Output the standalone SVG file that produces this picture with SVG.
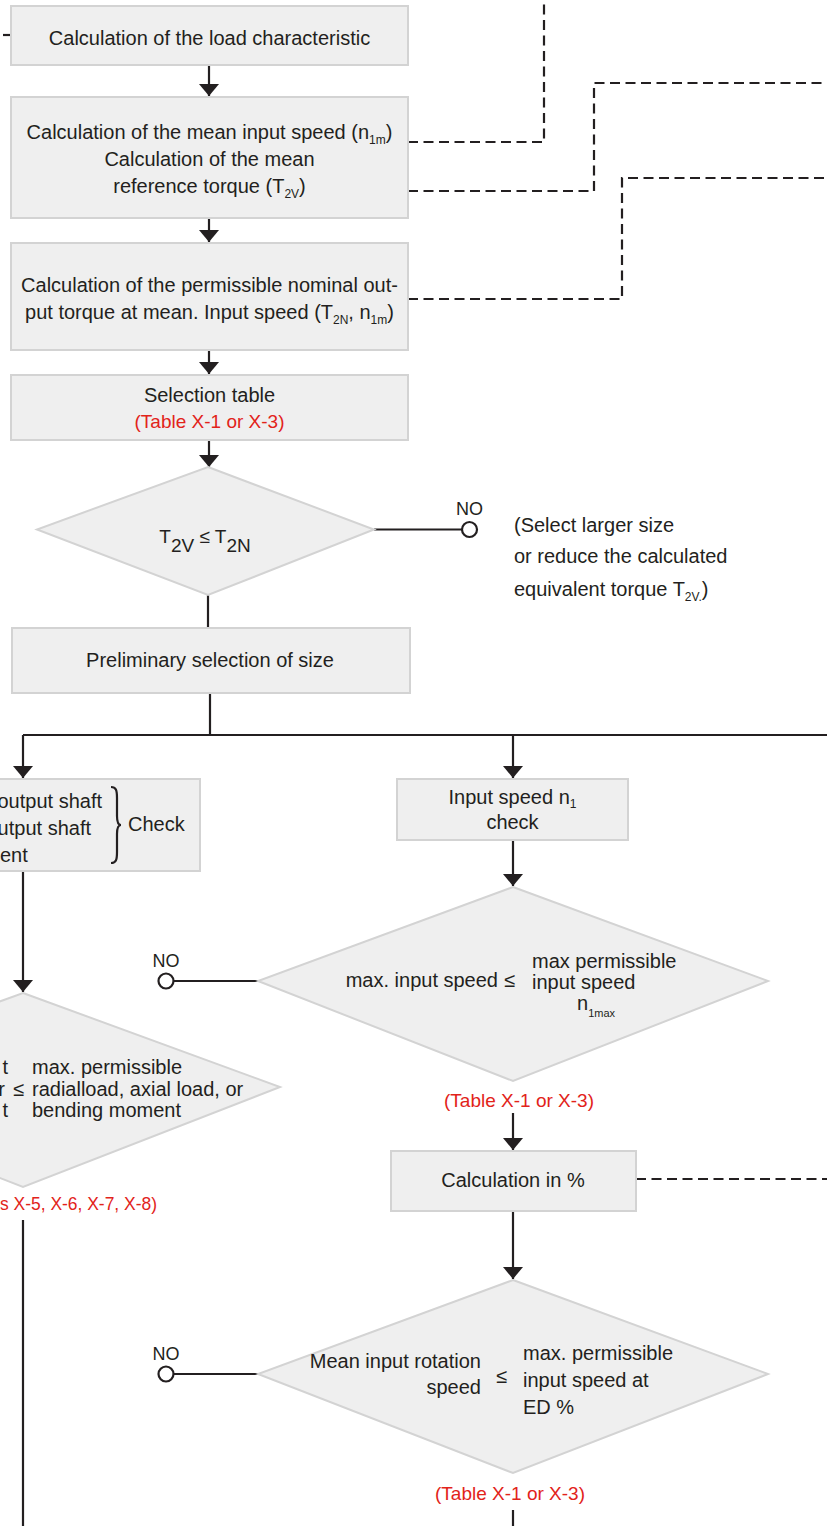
<svg xmlns="http://www.w3.org/2000/svg" width="827" height="1526" viewBox="0 0 827 1526">
<style>
.box{fill:#efefef;stroke:#d3d3d3;stroke-width:2}
.t{font-family:"Liberation Sans",Arial,sans-serif;font-size:20px;fill:#231f20}
.c{text-anchor:middle}
.e{text-anchor:end}
.red{fill:#e2231a;font-size:19px}
.sub{font-size:12px}
.no{font-family:"Liberation Sans",Arial,sans-serif;font-size:18px;fill:#231f20;text-anchor:middle}
.ln{stroke:#231f20;stroke-width:2.2;fill:none}
.dash{stroke:#231f20;stroke-width:2.2;fill:none;stroke-dasharray:10 5.5}
.end{fill:#fff;stroke:#231f20;stroke-width:2.2}
</style>
<defs>
<marker id="ah" viewBox="0 0 12 20" markerWidth="12" markerHeight="20" refX="12" refY="10" orient="auto" markerUnits="userSpaceOnUse">
<path d="M0,0 L12,10 L0,20 Z" fill="#231f20"/>
</marker>
</defs>

<g id="connectors">
<path class="ln" d="M3,35 H10"/>
<path class="dash" d="M408,142 H544 V0"/>
<path class="dash" d="M408,191 H594 V83 H827"/>
<path class="dash" d="M408,299 H622 V178 H827"/>
<path class="dash" d="M636,1179 H827"/>
<path class="ln" d="M209,65 V96" marker-end="url(#ah)"/>
<path class="ln" d="M209,218 V242" marker-end="url(#ah)"/>
<path class="ln" d="M209,350 V374" marker-end="url(#ah)"/>
<path class="ln" d="M209,440 V467" marker-end="url(#ah)"/>
<path class="ln" d="M208,595 V628"/>
<path class="ln" d="M210,693 V735"/>
<path class="ln" d="M23,735 H827"/>
<path class="ln" d="M23,735 V778" marker-end="url(#ah)"/>
<path class="ln" d="M513,735 V778" marker-end="url(#ah)"/>
<path class="ln" d="M23,871 V992" marker-end="url(#ah)"/>
<path class="ln" d="M513,840 V886" marker-end="url(#ah)"/>
<path class="ln" d="M513,1113 V1150" marker-end="url(#ah)"/>
<path class="ln" d="M513,1211 V1279" marker-end="url(#ah)"/>
<path class="ln" d="M23,1220 V1526"/>
<path class="ln" d="M513,1510 V1526"/>
<path class="ln" d="M374,529.5 H462"/>
<circle class="end" cx="469.5" cy="529.5" r="7.5"/>
<path class="ln" d="M258,981 H174"/>
<circle class="end" cx="166" cy="981" r="7.5"/>
<path class="ln" d="M258,1374 H174"/>
<circle class="end" cx="166" cy="1374" r="7.5"/>
</g>

<g id="n_load">
<rect class="box" x="11" y="6" width="397" height="59"/>
<text class="t c" x="209.5" y="45">Calculation of the load characteristic</text>
</g>

<g id="n_mean">
<rect class="box" x="11" y="97" width="397" height="121"/>
<text class="t c" x="209.5" y="139">Calculation of the mean input speed (n<tspan class="sub" dy="5">1m</tspan><tspan dy="-5">)</tspan></text>
<text class="t c" x="209.5" y="166">Calculation of the mean</text>
<text class="t c" x="209.5" y="193">reference torque (T<tspan class="sub" dy="5">2V</tspan><tspan dy="-5">)</tspan></text>
</g>

<g id="n_nominal">
<rect class="box" x="11" y="243" width="397" height="107"/>
<text class="t c" x="209.5" y="292">Calculation of the permissible nominal out-</text>
<text class="t c" x="209.5" y="319">put torque at mean. Input speed (T<tspan class="sub" dy="5">2N</tspan><tspan dy="-5">, n</tspan><tspan class="sub" dy="5">1m</tspan><tspan dy="-5">)</tspan></text>
</g>

<g id="n_table">
<rect class="box" x="11" y="375" width="397" height="65"/>
<text class="t c" x="209.5" y="402">Selection table</text>
<text class="t c red" x="209.5" y="428">(Table X-1 or X-3)</text>
</g>

<g id="d_torque">
<polygon class="box" points="208,467 374,529.5 208,595 37,529.5"/>
<text class="t c" x="205" y="543" style="font-size:19px">T<tspan dy="9">2V</tspan><tspan dy="-9"> ≤ T</tspan><tspan dy="9">2N</tspan></text>
<text class="no" x="469.5" y="515">NO</text>
<text class="t" x="514" y="532">(Select larger size</text>
<text class="t" x="514" y="563">or reduce the calculated</text>
<text class="t" x="514" y="596">equivalent torque T<tspan class="sub" dy="5">2V.</tspan><tspan dy="-5">)</tspan></text>
</g>

<g id="n_prelim">
<rect class="box" x="12" y="628" width="398" height="65"/>
<text class="t c" x="210" y="667">Preliminary selection of size</text>
</g>

<g id="n_shaft">
<rect class="box" x="-10" y="779" width="210" height="92"/>
<text class="t e" x="102" y="808">output shaft</text>
<text class="t e" x="91" y="835">utput shaft</text>
<text class="t" x="0" y="862">ent</text>
<path class="ln" d="M111,787 C116,787 117,790 117,798 L117,816 C117,822 118,825 121,825 C118,825 117,828 117,834 L117,852 C117,860 116,863 111,863"/>
<text class="t" x="128" y="831">Check</text>
</g>

<g id="d_load">
<polygon class="box" points="23,993 280,1087 23,1187 -234,1087"/>
<text class="t e" x="8" y="1074">t</text>
<text class="t e" x="5" y="1096">r</text>
<text class="t e" x="8" y="1117">t</text>
<text class="t" x="13" y="1096">≤</text>
<text class="t" x="32" y="1074">max. permissible</text>
<text class="t" x="32" y="1096">radialload, axial load, or</text>
<text class="t" x="32" y="1117">bending moment</text>
<text class="t red" x="0" y="1210" textLength="157" lengthAdjust="spacingAndGlyphs">s X-5, X-6, X-7, X-8)</text>
</g>

<g id="n_speed">
<rect class="box" x="397" y="779" width="231" height="61"/>
<text class="t c" x="512.5" y="804">Input speed n<tspan class="sub" dy="4">1</tspan></text>
<text class="t c" x="512.5" y="829">check</text>
</g>

<g id="d_speed">
<polygon class="box" points="513,887 768,981 513,1081 258,981"/>
<text class="no" x="166" y="967">NO</text>
<text class="t e" x="498" y="987">max. input speed</text>
<text class="t" x="504" y="987">≤</text>
<text class="t" x="532" y="968">max permissible</text>
<text class="t" x="532" y="989">input speed</text>
<text class="t" x="577" y="1010">n<tspan class="sub" style="font-size:11px" dy="7">1max</tspan></text>
<text class="t c red" x="519" y="1107">(Table X-1 or X-3)</text>
</g>

<g id="n_percent">
<rect class="box" x="391" y="1151" width="245" height="60"/>
<text class="t c" x="513" y="1187">Calculation in %</text>
</g>

<g id="d_ed">
<polygon class="box" points="513,1280 768,1374 513,1473 258,1374"/>
<text class="no" x="166" y="1360">NO</text>
<text class="t e" x="481" y="1368">Mean input rotation</text>
<text class="t e" x="481" y="1394">speed</text>
<text class="t" x="496" y="1383">≤</text>
<text class="t" x="523" y="1360">max. permissible</text>
<text class="t" x="523" y="1387">input speed at</text>
<text class="t" x="523" y="1414">ED %</text>
<text class="t c red" x="510" y="1500">(Table X-1 or X-3)</text>
</g>
</svg>
